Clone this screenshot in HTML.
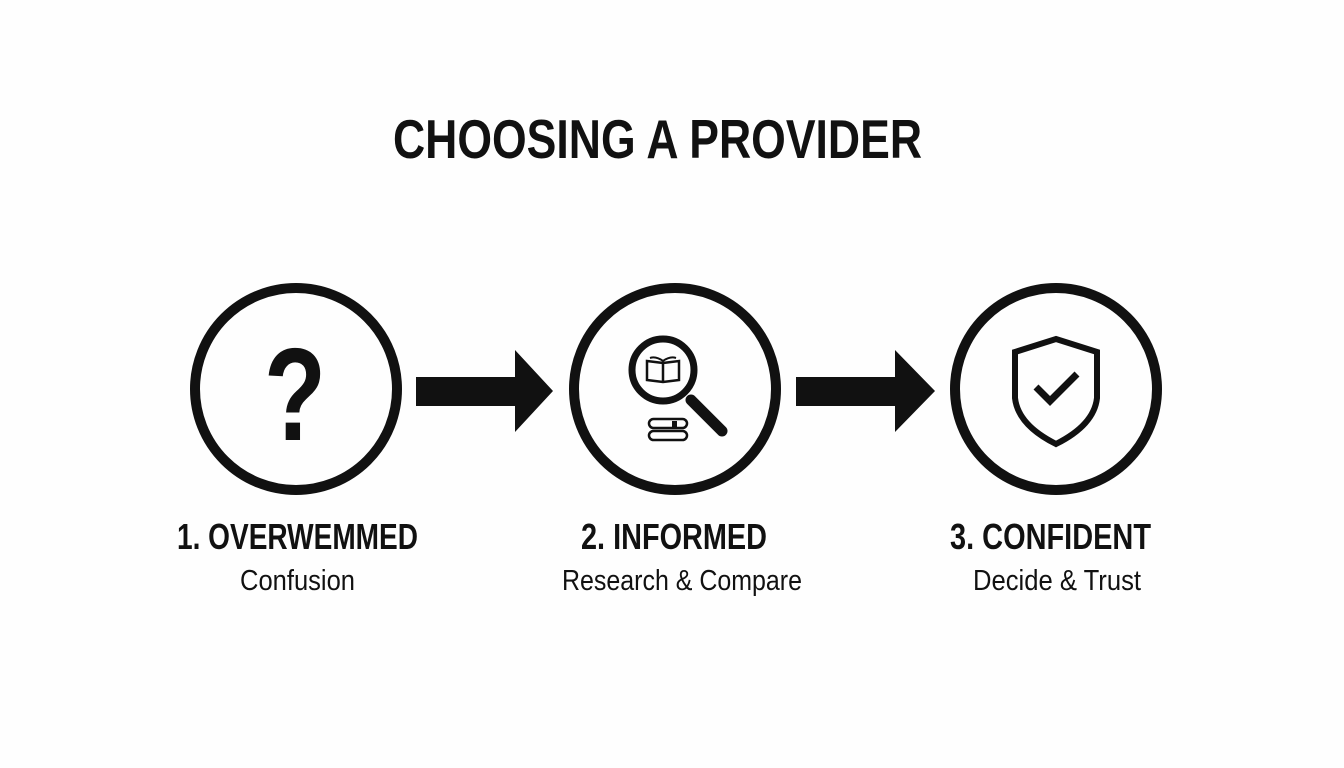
<!DOCTYPE html>
<html><head><meta charset="utf-8"><style>
html,body{margin:0;padding:0;background:#fff;}
svg{display:block}
</style></head><body>
<svg width="1344" height="768" viewBox="0 0 1344 768" xmlns="http://www.w3.org/2000/svg">
<rect width="1344" height="768" fill="#fefefe"/>
<g font-family="Liberation Sans, sans-serif" fill="#111">
<text x="393" y="158" font-size="55" font-weight="bold" textLength="529" lengthAdjust="spacingAndGlyphs">CHOOSING A PROVIDER</text>
<text x="177" y="549" font-size="36" font-weight="bold" textLength="241" lengthAdjust="spacingAndGlyphs">1. OVERWEMMED</text>
<text x="240" y="590" font-size="29" textLength="115" lengthAdjust="spacingAndGlyphs">Confusion</text>
<text x="581" y="549" font-size="36" font-weight="bold" textLength="186" lengthAdjust="spacingAndGlyphs">2. INFORMED</text>
<text x="562" y="590" font-size="29" textLength="240" lengthAdjust="spacingAndGlyphs">Research &amp; Compare</text>
<text x="950" y="549" font-size="36" font-weight="bold" textLength="201" lengthAdjust="spacingAndGlyphs">3. CONFIDENT</text>
<text x="973" y="590" font-size="29" textLength="168" lengthAdjust="spacingAndGlyphs">Decide &amp; Trust</text>
<text x="264" y="440" font-size="132" font-weight="bold" textLength="62" lengthAdjust="spacingAndGlyphs">?</text>
</g>
<g fill="none" stroke="#111" stroke-width="10">
<circle cx="296" cy="389" r="101"/>
<circle cx="675" cy="389" r="101"/>
<circle cx="1056" cy="389" r="101"/>
</g>
<g fill="#111">
<polygon points="416,377 515,377 515,350 553,391 515,432 515,406 416,406"/>
<polygon points="796,377 895,377 895,350 935,391 895,432 895,406 796,406"/>
</g>
<g stroke="#111" fill="none">
<circle cx="663" cy="370" r="31" stroke-width="7"/>
<line x1="691" y1="400" x2="722" y2="431" stroke-width="11" stroke-linecap="round"/>
<path d="M647,361 L663,363 L679,361 L679,380 L663,382 L647,380 Z M663,363 L663,382" stroke-width="2.5"/>
<path d="M650,358 Q656,356 663,361 Q670,356 676,358" stroke-width="2"/>
<rect x="649" y="419" width="38" height="9" rx="4.5" stroke-width="2.5"/>
<rect x="649" y="431" width="38" height="9" rx="4.5" stroke-width="2.5"/>
</g>
<rect x="672" y="421" width="5" height="6" fill="#111"/>
<path d="M1056,339 L1097,352 L1097,398 Q1094,425 1056,444 Q1018,425 1015,398 L1015,352 Z" fill="none" stroke="#111" stroke-width="6"/>
<polyline points="1036,387 1050,401 1077,374" fill="none" stroke="#111" stroke-width="7"/>
</svg>
</body></html>
